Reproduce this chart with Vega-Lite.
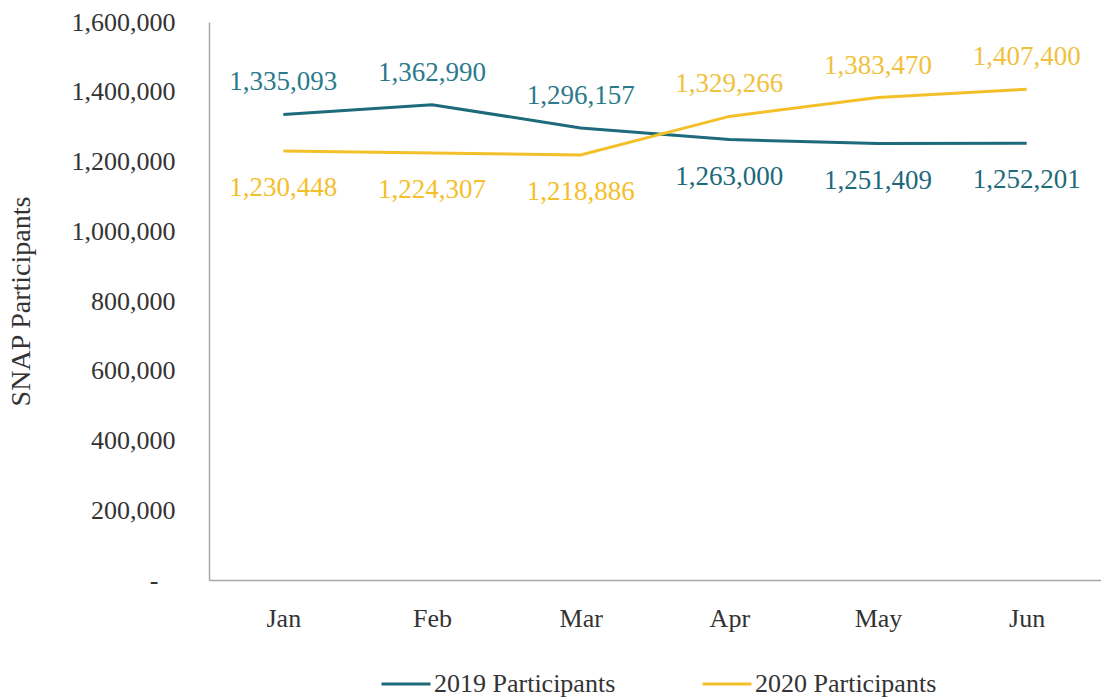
{
  "$schema": "https://vega.github.io/schema/vega-lite/v6.json",
  "autosize": "none",
  "width": 892,
  "height": 558,
  "padding": {"left": 209, "top": 22, "right": 0, "bottom": 120},
  "background": "white",
  "config": {
    "view": {"stroke": null},
    "font": "Liberation Serif",
    "axis": {"labelFont": "Liberation Serif", "titleFont": "Liberation Serif", "labelColor": "#333333", "titleColor": "#333333"},
    "legend": {"labelFont": "Liberation Serif"}
  },
  "data": {
    "values": [
      {"month": "Jan", "series": "2019 Participants", "value": 1335093},
      {"month": "Feb", "series": "2019 Participants", "value": 1362990},
      {"month": "Mar", "series": "2019 Participants", "value": 1296157},
      {"month": "Apr", "series": "2019 Participants", "value": 1263000},
      {"month": "May", "series": "2019 Participants", "value": 1251409},
      {"month": "Jun", "series": "2019 Participants", "value": 1252201},
      {"month": "Jan", "series": "2020 Participants", "value": 1230448},
      {"month": "Feb", "series": "2020 Participants", "value": 1224307},
      {"month": "Mar", "series": "2020 Participants", "value": 1218886},
      {"month": "Apr", "series": "2020 Participants", "value": 1329266},
      {"month": "May", "series": "2020 Participants", "value": 1383470},
      {"month": "Jun", "series": "2020 Participants", "value": 1407400}
    ]
  },
  "transform": [
    {"joinaggregate": [{"op": "max", "field": "value", "as": "maxv"}], "groupby": ["month"]}
  ],
  "encoding": {
    "x": {
      "field": "month", "type": "ordinal",
      "sort": ["Jan", "Feb", "Mar", "Apr", "May", "Jun"],
      "scale": {"type": "point", "padding": 0.5},
      "axis": {"title": null, "labelAngle": 0, "ticks": false, "domainColor": "#a6a6a6", "domainWidth": 1.5, "labelFontSize": 26, "labelPadding": 25}
    },
    "y": {
      "field": "value", "type": "quantitative",
      "scale": {"domain": [0, 1600000]},
      "axis": {
        "title": "SNAP Participants", "titleFontSize": 28, "titleFontWeight": "normal",
        "titleX": -188, "titleY": 279, "titleAngle": -90, "titleAlign": "center", "titleBaseline": "middle",
        "values": [0, 200000, 400000, 600000, 800000, 1000000, 1200000, 1400000, 1600000],
        "labelExpr": "datum.value === 0 ? '-' : format(datum.value, ',.0f')",
        "grid": false, "ticks": false, "domainColor": "#a6a6a6", "domainWidth": 1.5,
        "labelFontSize": 26,
        "labelPadding": {"condition": {"test": "datum.value === 0", "value": 51}, "value": 34}
      }
    },
    "color": {
      "field": "series", "type": "nominal",
      "scale": {"domain": ["2019 Participants", "2020 Participants"], "range": ["#1d6a7b", "#f4c02a"]},
      "legend": {
        "title": null, "orient": "none", "legendX": 171, "legendY": 636, "direction": "horizontal",
        "symbolType": "stroke", "symbolSize": 2400, "symbolStrokeWidth": 3, "labelLimit": 400,
        "labelFontSize": 26, "labelColor": "#333333", "columnPadding": 80, "labelOffset": 2
      }
    }
  },
  "layer": [
    {"mark": {"type": "line", "strokeWidth": 3}},
    {
      "transform": [{"filter": "datum.value === datum.maxv"}],
      "mark": {"type": "text", "fontSize": 27, "dy": -32, "baseline": "middle"},
      "encoding": {
        "text": {"field": "value", "type": "quantitative", "format": ",.0f"},
        "color": {"field": "series", "type": "nominal", "scale": {"domain": ["2019 Participants", "2020 Participants"], "range": ["#2a7a8c", "#f0c13e"]}, "legend": null}
      }
    },
    {
      "transform": [{"filter": "datum.value !== datum.maxv"}],
      "mark": {"type": "text", "fontSize": 27, "dy": 37, "baseline": "middle"},
      "encoding": {
        "text": {"field": "value", "type": "quantitative", "format": ",.0f"},
        "color": {"field": "series", "type": "nominal", "legend": null}
      }
    }
  ],
  "resolve": {"scale": {"color": "independent"}}
}
